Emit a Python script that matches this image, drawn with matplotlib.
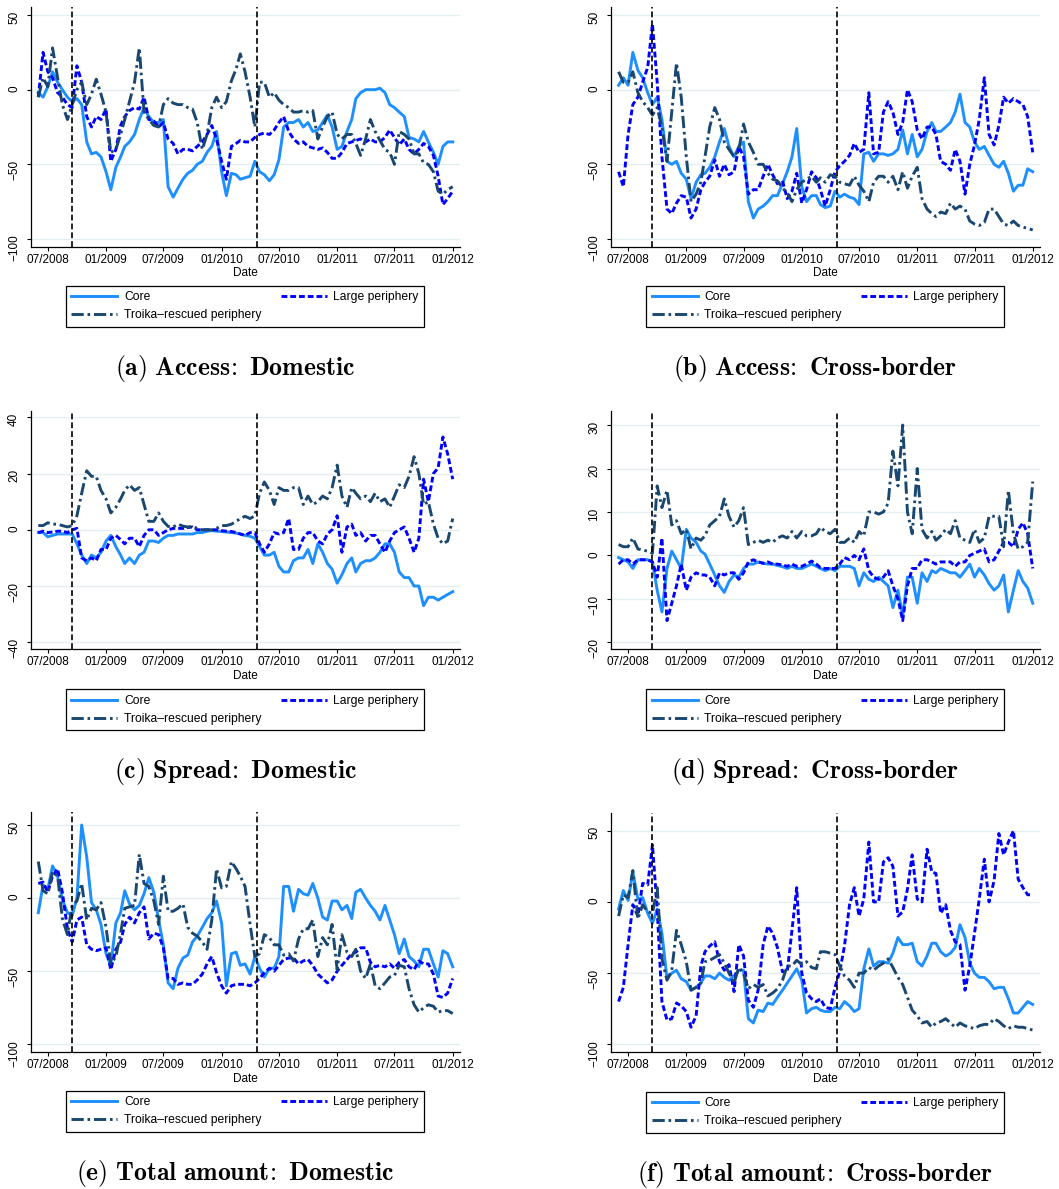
import matplotlib
matplotlib.use("Agg")
import matplotlib.pyplot as plt
import matplotlib.dates as mdates
from matplotlib.lines import Line2D
import pandas as pd

plt.rcParams['font.family'] = ['Liberation Sans', 'DejaVu Sans']
plt.rcParams['mathtext.fontset'] = 'cm'

# Semi-monthly observation dates, June 2008 - January 2012
months = pd.date_range("2008-06-01", "2011-12-01", freq="MS")
dates = []
for m in months:
    dates.append(m)
    dates.append(m + pd.Timedelta(days=15))
dates.append(pd.Timestamp("2012-01-01"))

event_dates = [pd.Timestamp("2008-09-15"), pd.Timestamp("2010-04-23")]
tick_dates = pd.date_range("2008-07-01", "2012-01-01", freq="6MS")

series_labels = ["Core", "Large periphery", "Troika\u2013rescued periphery"]

# (a) Access: Domestic
a_core = [-2, -5, 2, 12, 5, 0, -5, -8, -6, -10,
          -35, -43, -42, -45, -55, -67, -52, -45, -38, -35,
          -30, -20, -12, -18, -22, -22, -20, -65, -72, -66,
          -60, -56, -54, -50, -48, -42, -38, -28, -55, -71,
          -56, -57, -60, -59, -58, -48, -55, -57, -61, -57,
          -47, -25, -22, -22, -20, -25, -22, -28, -27, -22,
          -17, -25, -40, -38, -28, -20, -6, -2, 0, 0,
          0, 1, -2, -10, -12, -15, -18, -32, -33, -35,
          -28, -35, -42, -50, -38, -35, -35]
a_large = [-5, 25, 12, 8, -2, -5, -10, -12, 16, 5,
           -18, -25, -18, -20, -13, -48, -40, -24, -18, -14,
           -12, -13, -5, -20, -21, -25, -22, -33, -36, -43,
           -40, -40, -41, -38, -35, -30, -24, -33, -48, -60,
           -38, -36, -34, -35, -35, -32, -30, -29, -30, -27,
           -22, -18, -28, -33, -36, -35, -38, -39, -40, -39,
           -42, -46, -46, -42, -36, -35, -34, -33, -35, -33,
           -35, -35, -32, -27, -32, -37, -33, -40, -43, -40,
           -36, -38, -44, -58, -77, -73, -68]
a_troika = [-5, 8, 2, 28, 8, -10, -20, -10, 0, 5,
            -10, -3, 7, -3, -15, -42, -40, -30, -20, -8,
            5, 28, -15, -20, -24, -25, -10, -6, -9, -10,
            -10, -12, -13, -22, -40, -30, -12, -5, -12, -8,
            6, 14, 24, 12, -5, -25, 5, 5, -5, -2,
            -7, -10, -12, -15, -15, -14, -15, -14, -33, -25,
            -18, -15, -30, -33, -30, -30, -36, -44, -33, -20,
            -28, -34, -40, -42, -50, -28, -30, -33, -43, -43,
            -49, -50, -55, -68, -70, -67, -65]

# (b) Access: Cross-border
b_core = [3, 8, 3, 25, 13, 8, -2, -10, -5, -20,
          -48, -50, -48, -56, -60, -73, -62, -57, -56, -52,
          -45, -35, -26, -38, -45, -38, -35, -75, -86, -80,
          -78, -75, -71, -71, -63, -55, -45, -26, -65, -75,
          -71, -71, -77, -79, -78, -68, -72, -70, -72, -73,
          -77, -43, -42, -48, -43, -43, -44, -43, -40, -27,
          -43, -30, -45, -40, -28, -22, -28, -28, -25, -22,
          -15, -3, -22, -25, -35, -40, -38, -44, -50, -52,
          -48, -56, -68, -64, -64, -53, -55]
b_large = [-55, -65, -30, -10, -5, 5, 15, 44, 5, -45,
           -80, -83, -76, -71, -72, -86, -80, -67, -62, -58,
           -47, -58, -50, -57, -55, -38, -45, -70, -67, -67,
           -58, -50, -57, -63, -61, -73, -68, -56, -76, -67,
           -55, -59, -67, -78, -67, -55, -51, -48, -44, -36,
           -42, -40, -2, -43, -42, -15, -8, -15, -30, -22,
           0, -8, -27, -33, -25, -25, -30, -48, -50, -54,
           -40, -48, -70, -50, -37, -20, 8, -30, -37, -24,
           -5, -9, -6, -8, -10, -18, -42]
b_troika = [12, 5, 5, 12, -2, -8, -12, -17, -12, -25,
            -48, -15, 18, -5, -45, -75, -70, -62, -45, -25,
            -12, -20, -35, -40, -45, -40, -23, -35, -42, -50,
            -50, -56, -60, -61, -66, -69, -75, -67, -62, -60,
            -58, -62, -59, -62, -57, -58, -62, -63, -64, -58,
            -64, -68, -75, -62, -58, -58, -62, -58, -67, -55,
            -66, -58, -52, -73, -80, -83, -85, -82, -83, -76,
            -80, -78, -80, -88, -90, -91, -89, -80, -80, -85,
            -90, -91, -88, -91, -92, -93, -94]

# (c) Spread: Domestic
c_core = [-1, -1, -2.5, -2, -1.5, -1.5, -1.5, -1.5, -5, -9,
          -12, -9, -10, -8, -4, -2, -6, -9, -12, -10,
          -12, -9, -8, -4, -4, -4.5, -3, -2, -2, -1.5,
          -1.5, -1.5, -1.5, -1, -1, -0.5, -0.3, -0.5, -0.6, -0.8,
          -1, -1.2, -1.5, -2, -2.3, -3, -6, -9, -9, -8,
          -13, -15, -15, -11, -10, -10, -7, -12, -5, -8,
          -12, -14, -19, -16, -12, -10, -15, -12, -11, -11,
          -10, -8, -5, -5, -8, -15, -17, -17, -20, -20,
          -27, -24, -24, -25, -24, -23, -22]
c_large = [-1, -0.5, -1, -0.8, -0.5, -0.5, -1, 0, 0.5, -10,
           -11, -10, -11, -7, -7, -3, -2, -3.5, -5, -3,
           -3, -6, -2, 0, 0, -2, -1, 0, 0.5, 0.5,
           0.5, 0.8, 1, 0, 0, 0, 0, 0, -0.3, -0.5,
           -0.6, -1, -1.5, -2, -1, -1, -5, -8, -5, -1,
           -1.5, -1, 4, -7, -7, -3, -1, -1, -4, -5,
           -1.5, 0, 5, -8, 1, 2, -2, -1, -4, -2,
           -2, -5, -8, -4, -1, 0, 1, -3, -8, -3,
           18, 10, 20, 22, 33, 27, 18]
c_troika = [1.5, 1.5, 2.5, 2, 2, 1.5, 1, 1.5, 5, 13,
            21, 19, 19, 14, 11, 6, 8, 11, 14, 16,
            14, 15, 9, 3, 3, 6, 3, 1.2, 1, 2,
            1.3, 1, 1.2, 0.5, 0, 0, 0, 0.5, 1.5, 1.5,
            2, 3, 4, 4.8, 4, 5, 13, 17, 14, 9,
            15, 14, 14, 15, 15, 9, 12, 9, 10, 12,
            11, 15, 23, 12, 8, 15, 13, 11, 12, 10,
            13, 10, 11, 8, 12, 16, 15, 19, 26, 20,
            9, 10, 2, -3, -5, -4, 4]

# (d) Spread: Cross-border
d_core = [-0.5, -1, -1.5, -3, -1, -1, -1, -1.5, -8, -13,
          -3, 1, -1, -3, 6, 4, 3, 1, 0.3, -2,
          -4.5, -7, -8.5, -6, -4.5, -5, -3, -2, -2, -1.5,
          -1.8, -2, -2, -2.3, -2.6, -3, -2.5, -3, -3, -2.5,
          -2, -2.5, -3, -3.5, -3, -3.5, -2.5, -2.5, -2.5, -3,
          -7, -4, -5.5, -6, -5, -6, -7, -12, -8, -14,
          -5, -5, -11, -4, -6, -3.5, -4, -3, -3.5, -4,
          -4, -5, -3.5, -2, -5, -3, -4.5, -6.5, -8, -7,
          -4.5, -13, -8, -3.5, -6, -7.5, -11]
d_large = [-2, -1, -1, -2, -1, -1, -1, -1.5, -5, 4,
           -15, -11, -7, -2, -8, -5, -4, -4.5, -4.5, -5,
           -7, -4, -4.5, -4, -4, -5.5, -4, -1.5, -1, -1.5,
           -1.8, -1.5, -2, -2, -2.2, -2.5, -2, -2.5, -2.5, -2,
           -1.3, -2, -2.8, -3, -3, -3, -2, -0.5, -1, 0,
           -1, 1.5, -3.5, -5, -5.5, -5, -3.5, -7, -10, -15,
           -7, -3, -3, -1, -1, -1.5, -2, -1.5, -1.5, -1.5,
           -2.5, -1.5, -1.5, 0, 0.5, 1, 1.5, -1.5, -1, 1,
           3, 3, 2, 6, 7.5, 5, -3]
d_troika = [2.5, 2, 2, 4, 1.5, 1.2, 1, 0.5, 16, 11,
            15, 7, 8, 5, 6, 1.5, 4, 3.5, 4.5, 7,
            8, 9, 13, 9, 6.5, 8, 11, 2.5, 3, 3.5,
            3, 3.5, 3, 4, 4.5, 4, 5.5, 4, 5.5, 4.5,
            4.5, 5, 6.5, 5.5, 5, 6, 3, 3, 4, 3,
            5.5, 4.5, 10, 10, 9.5, 10, 12, 24, 16, 30,
            10, 5, 20, 6, 4, 5.5, 3.5, 4.5, 6, 5,
            8, 4, 3.5, 3, 6, 3, 4, 9, 9, 9,
            2, 15, 5, 1.5, 2, 3, 17]

# (e) Total amount: Domestic
e_core = [-10, 9, 6, 22, 15, -1, -10, -12, 0, 50,
          28, -3, -8, -18, -38, -46, -17, -10, 5, -4,
          -8, -5, 3, 14, 4, -15, -32, -58, -62, -48,
          -41, -39, -30, -26, -20, -14, -10, -2, -17, -60,
          -38, -37, -46, -45, -52, -40, -48, -54, -48, -48,
          -40, 8, 8, -9, 6, 3, 2, 10, 0, -13,
          -15, -2, -2, -8, -5, -14, 4, 6, 0, -5,
          -9, -15, -5, -15, -25, -38, -28, -40, -43, -47,
          -35, -35, -45, -54, -36, -38, -47]
e_large = [10, 11, 4, 15, 20, 4, -21, -30, -15, -13,
           -32, -35, -36, -35, -34, -49, -35, -30, -18, -13,
           -17, -10, -6, -28, -24, -25, -34, -55, -55, -59,
           -58, -59, -59, -56, -52, -45, -40, -51, -60, -65,
           -60, -59, -59, -59, -60, -58, -55, -51, -48, -50,
           -46, -42, -41, -41, -45, -43, -42, -46, -52, -55,
           -58, -56, -50, -46, -42, -38, -37, -34, -34, -44,
           -47, -46, -47, -45, -48, -44, -42, -47, -49, -43,
           -45, -45, -52, -67, -68, -65, -55]
e_troika = [25, 5, 3, 18, 15, -14, -25, -5, -2, 10,
            -15, -7, -8, -3, -20, -45, -40, -24, -7, -6,
            -5, 30, 10, 8, -2, -18, 15, -9, -9, -7,
            -4, -20, -24, -26, -30, -35, -15, 20, 7, 8,
            25, 20, 15, 8, -18, -40, -38, -25, -27, -32,
            -32, -39, -38, -43, -28, -21, -21, -15, -40, -27,
            -32, -18, -49, -25, -37, -40, -35, -50, -55, -45,
            -60, -62, -58, -54, -53, -46, -47, -62, -73, -78,
            -75, -73, -74, -78, -77, -77, -79]

# (f) Total amount: Cross-border
f_core = [-5, 8, 1, 21, 2, 3, -8, -15, -5, -22,
          -54, -50, -48, -54, -56, -62, -60, -57, -52, -52,
          -54, -50, -53, -55, -52, -48, -48, -82, -85, -76,
          -77, -71, -72, -67, -62, -57, -52, -47, -55, -78,
          -75, -74, -76, -77, -77, -74, -75, -70, -73, -77,
          -75, -47, -33, -45, -42, -42, -43, -36, -25, -30,
          -30, -29, -42, -45, -38, -29, -29, -35, -38, -36,
          -32, -16, -25, -43, -50, -53, -53, -56, -61, -60,
          -60, -68, -78, -78, -74, -70, -72]
f_large = [-70, -60, -30, -2, -10, 13, 12, 40, -5, -70,
           -83, -82, -71, -73, -77, -88, -80, -45, -35, -31,
           -28, -42, -48, -44, -63, -30, -38, -69, -74, -62,
           -30, -17, -22, -32, -49, -49, -20, 10, -50, -64,
           -68, -70, -68, -74, -75, -60, -49, -31, -2, 10,
           -10, 2, 42, 0, 0, 28, 31, 25, -10, -7,
           9, 33, 2, 0, 37, 21, 20, -8, -2, -20,
           -28, -30, -62, -45, -22, 2, 30, 0, 15, 48,
           33, 42, 50, 16, 10, 5, 5]
f_troika = [-10, 5, 3, 22, -12, -2, -7, -8, 10, -40,
            -55, -48, -20, -30, -42, -62, -60, -57, -42, -41,
            -39, -37, -43, -50, -57, -46, -50, -61, -58, -60,
            -58, -66, -64, -61, -55, -45, -45, -41, -44, -42,
            -46, -47, -35, -35, -36, -37, -45, -52, -55, -60,
            -50, -50, -46, -48, -45, -43, -40, -46, -53, -58,
            -67, -76, -80, -85, -84, -88, -85, -84, -82, -85,
            -88, -85, -87, -88, -89, -87, -86, -86, -82, -84,
            -87, -89, -87, -88, -88, -89, -90]

captions = ["(a) Access: Domestic", "(b) Access: Cross-border",
            "(c) Spread: Domestic", "(d) Spread: Cross-border",
            "(e) Total amount: Domestic", "(f) Total amount: Cross-border"]

W, H = 1059, 1189
fig = plt.figure(figsize=(W / 100, H / 100), dpi=100)

C_CORE = "#1e8fff"
C_LARGE = "#0000ff"
C_TROIKA = "#1a476f"
LW = 2.1
DASH_LARGE = (2.0, 1.0)
DASH_TROIKA = (4.2, 1.3, 0.9, 1.3)
TICK_FS = 8.5


def caption_math(text):
    body = text.replace(" ", r"\ ").replace(":", r"\!:").replace("-", "\u2010")
    return r"$\mathbf{" + body + "}$"


def add_axes_px(left, top, right, bottom):
    return fig.add_axes([left / W, 1 - bottom / H, (right - left) / W, (bottom - top) / H])


panels = [
    ((30.7, 7, 460, 247), (a_core, a_large, a_troika), (-105.4, 55.4), [-100, -50, 0, 50]),
    ((611, 7, 1040, 247), (b_core, b_large, b_troika), (-105.4, 55.4), [-100, -50, 0, 50]),
    ((30.7, 410.7, 460, 649.3), (c_core, c_large, c_troika), (-42.5, 42.35), [-40, -20, 0, 20, 40]),
    ((611, 410.7, 1040, 649.3), (d_core, d_large, d_troika), (-21.6, 33.3), [-20, -10, 0, 10, 20, 30]),
    ((30.7, 812.3, 460, 1052.3), (e_core, e_large, e_troika), (-105.5, 58.7), [-100, -50, 0, 50]),
    ((611, 813.3, 1040, 1052.3), (f_core, f_large, f_troika), (-105.6, 62.2), [-100, -50, 0, 50]),
]

xmin = mdates.date2num(pd.Timestamp("2008-05-08"))
xmax = mdates.date2num(pd.Timestamp("2012-01-24"))

for (box, (core, large, troika), ylim, yticks), cap in zip(panels, captions):
    left, top, right, bottom = box
    ax = add_axes_px(left, top, right, bottom)
    ax.set_axisbelow(True)
    ax.yaxis.grid(True, color="#e3eef0", lw=1.0)

    ax.plot(dates, core, color=C_CORE, lw=LW, solid_joinstyle="round", zorder=3)
    ax.plot(dates, large, color=C_LARGE, lw=LW, dashes=DASH_LARGE, zorder=4)
    ax.plot(dates, troika, color=C_TROIKA, lw=LW, dashes=DASH_TROIKA, zorder=5)
    for d in event_dates:
        ax.axvline(d, color="black", lw=1.2, dashes=(3.5, 1.8), zorder=6)

    ax.set_xlim(xmin, xmax)
    ax.set_ylim(*ylim)
    ax.set_yticks(yticks)
    ax.set_xticks(tick_dates)
    ax.xaxis.set_major_formatter(mdates.DateFormatter("%m/%Y"))
    for s in ("top", "right"):
        ax.spines[s].set_visible(False)
    for s in ("left", "bottom"):
        ax.spines[s].set_linewidth(0.9)
    ax.tick_params(axis="both", direction="out", length=2.6, width=0.8, labelsize=TICK_FS)
    ax.tick_params(axis="y", labelrotation=90, pad=5)
    ax.tick_params(axis="x", pad=2.5)
    ax.set_xlabel("Date", fontsize=TICK_FS, labelpad=1)

    # legend box below the plot
    lx, ly, lw_, lh = left + 35.3, top + 278.7, 358, 39
    handles = [
        Line2D([], [], color=C_CORE, lw=LW),
        Line2D([], [], color=C_TROIKA, lw=LW, dashes=DASH_TROIKA),
        Line2D([], [], color=C_LARGE, lw=LW, dashes=DASH_LARGE),
    ]
    labels = [series_labels[0], series_labels[2], series_labels[1]]
    leg = fig.legend(handles, labels, loc="upper left",
                     bbox_to_anchor=(lx / W, 1 - (ly + lh) / H, lw_ / W, lh / H),
                     mode="expand", ncol=2, fontsize=8.7, handlelength=3.8,
                     handletextpad=0.55, borderpad=0.45, labelspacing=0.5,
                     borderaxespad=0, frameon=True, fancybox=False,
                     edgecolor="black", framealpha=1)
    leg.get_frame().set_linewidth(0.9)

    fig.text((left + 204.3) / W, 1 - (top + 361) / H, caption_math(cap),
             ha="center", va="center", fontsize=18.5)

fig.savefig("out.png", dpi=100, facecolor="white")
